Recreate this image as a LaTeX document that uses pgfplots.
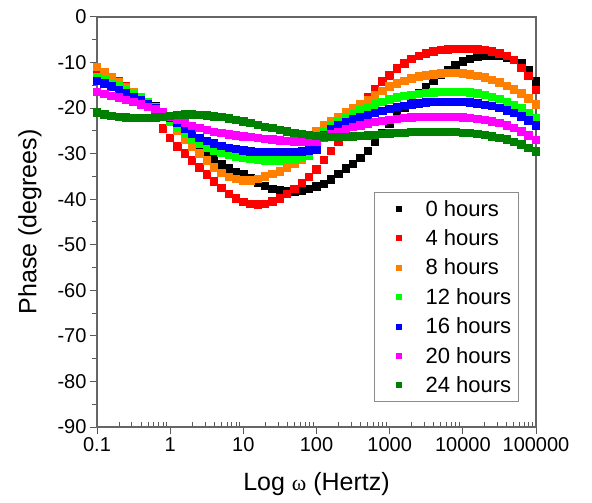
\documentclass[border=0pt]{standalone}
\usepackage{pgfplots}
\usepackage{pgfplotstable}
\usepackage{fontspec}
\pgfplotsset{compat=1.18}
\usetikzlibrary{calc}
\setmainfont{Liberation Sans}
\newfontfamily\serifw{Liberation Serif}

\definecolor{c0}{RGB}{0,0,0}
\definecolor{c4}{RGB}{255,0,0}
\definecolor{c8}{RGB}{255,128,0}
\definecolor{c12}{RGB}{0,255,0}
\definecolor{c16}{RGB}{0,0,255}
\definecolor{c20}{RGB}{255,0,255}
\definecolor{c24}{RGB}{0,128,0}

% t = log10 of frequency, phase in degrees
\pgfplotstableread{
t    h0     h4     h8     h12    h16    h20    h24
-1.0 -12.5  -11.5  -11.0  -13.2  -14.0  -16.5  -21.0
-0.9 -13.3  -12.3  -12.1  -13.9  -14.6  -16.9  -21.4
-0.8 -14.1  -13.2  -13.2  -14.6  -15.3  -17.3  -21.7
-0.7 -15.0  -14.2  -14.3  -15.3  -16.0  -17.7  -22.0
-0.6 -15.9  -15.3  -15.4  -16.0  -16.7  -18.2  -22.1
-0.5 -16.8  -16.6  -16.5  -16.8  -17.5  -18.7  -22.2
-0.4 -17.7  -18.0  -17.6  -17.7  -18.3  -19.2  -22.2
-0.3 -18.6  -19.8  -18.7  -18.8  -19.1  -19.7  -22.2
-0.2 -19.6  -22.0  -19.9  -19.9  -20.0  -20.3  -22.1
-0.1 -20.8  -24.5  -21.3  -21.2  -21.0  -21.0  -21.9
0.0  -22.6  -26.6  -23.0  -22.7  -22.1  -21.8  -21.7
0.1  -24.4  -28.4  -24.9  -24.2  -23.3  -22.6  -21.5
0.2  -26.0  -30.0  -26.9  -25.6  -24.5  -23.3  -21.4
0.3  -27.5  -31.5  -28.5  -26.9  -25.6  -23.9  -21.4
0.4  -28.9  -33.0  -30.0  -27.9  -26.5  -24.4  -21.5
0.5  -30.1  -34.6  -31.5  -28.7  -27.2  -24.8  -21.6
0.6  -31.3  -36.1  -33.0  -29.4  -27.8  -25.2  -21.8
0.7  -32.4  -37.5  -34.2  -29.9  -28.3  -25.5  -22.0
0.8  -33.3  -38.8  -35.1  -30.3  -28.7  -25.8  -22.3
0.9  -34.0  -39.8  -35.6  -30.7  -29.0  -26.0  -22.6
1.0  -34.6  -40.6  -35.9  -31.0  -29.3  -26.2  -22.9
1.1  -35.4  -41.0  -35.9  -31.2  -29.5  -26.4  -23.3
1.2  -36.3  -41.2  -35.5  -31.4  -29.6  -26.6  -23.7
1.3  -37.1  -41.0  -35.0  -31.5  -29.7  -26.8  -24.1
1.4  -37.7  -40.5  -34.5  -31.5  -29.7  -26.9  -24.4
1.5  -38.1  -39.8  -33.9  -31.5  -29.7  -27.1  -24.8
1.6  -38.3  -38.9  -33.1  -31.4  -29.7  -27.2  -25.1
1.7  -38.3  -37.8  -32.3  -31.2  -29.6  -27.3  -25.4
1.8  -38.1  -36.5  -31.3  -30.9  -29.5  -27.4  -25.7
1.9  -37.7  -35.1  -30.2  -30.5  -29.3  -27.5  -25.9
2.0  -37.2  -33.5  -25.0  -26.5  -29.2  -27.5  -26.1
2.1  -36.6  -31.4  -23.8  -25.0  -25.9  -26.5  -26.2
2.2  -35.7  -29.4  -22.8  -23.9  -24.7  -25.8  -26.3
2.3  -34.5  -27.3  -21.9  -22.9  -23.8  -25.2  -26.3
2.4  -33.3  -24.5  -21.0  -22.1  -23.1  -24.7  -26.3
2.5  -32.3  -21.8  -20.1  -21.3  -22.5  -24.2  -26.2
2.6  -31.0  -19.5  -19.2  -20.5  -22.0  -23.8  -26.1
2.7  -29.4  -17.5  -18.2  -19.8  -21.5  -23.4  -26.0
2.8  -27.4  -15.8  -17.2  -19.2  -21.1  -23.1  -25.9
2.9  -25.4  -14.2  -16.2  -18.6  -20.6  -22.8  -25.7
3.0  -23.4  -12.8  -15.3  -18.1  -20.2  -22.6  -25.6
3.1  -21.6  -11.3  -14.6  -17.7  -19.8  -22.4  -25.5
3.2  -19.9  -10.2  -14.0  -17.4  -19.5  -22.2  -25.4
3.3  -18.3  -9.2   -13.5  -17.1  -19.2  -22.1  -25.3
3.4  -16.8  -8.5   -13.1  -16.9  -19.0  -22.0  -25.2
3.5  -15.4  -8.0   -12.8  -16.7  -18.8  -21.9  -25.2
3.6  -14.0  -7.6   -12.6  -16.6  -18.7  -21.9  -25.2
3.7  -12.7  -7.3   -12.4  -16.5  -18.6  -21.9  -25.2
3.8  -11.6  -7.1   -12.3  -16.5  -18.6  -21.9  -25.2
3.9  -10.6  -7.0   -12.3  -16.5  -18.6  -22.0  -25.3
4.0  -9.8   -7.0   -12.4  -16.5  -18.7  -22.1  -25.4
4.1  -9.2   -7.0   -12.6  -16.6  -18.8  -22.2  -25.5
4.2  -8.8   -7.1   -12.9  -16.8  -19.0  -22.4  -25.7
4.3  -8.6   -7.3   -13.3  -17.1  -19.3  -22.6  -25.9
4.4  -8.5   -7.6   -13.8  -17.5  -19.6  -22.9  -26.2
4.5  -8.6   -8.0   -14.4  -18.0  -20.0  -23.3  -26.5
4.6  -8.9   -8.6   -15.1  -18.6  -20.5  -23.8  -26.9
4.7  -9.5   -9.5   -15.9  -19.3  -21.1  -24.4  -27.4
4.8  -10.2  -11.2  -16.8  -20.1  -21.8  -25.1  -28.0
4.9  -11.6  -13.0  -17.9  -21.1  -22.7  -26.0  -28.7
5.0  -14.2  -16.0  -19.2  -22.3  -23.8  -27.0  -29.5
}\phase

\begin{document}
\begin{tikzpicture}
\begin{axis}[
  scale only axis,
  width=439pt, height=410pt,
  xmin=-1, xmax=5, ymin=-90, ymax=0,
  xtick={-1,0,1,2,3,4,5},
  xticklabels={0.1,1,10,100,1000,10000,100000},
  minor xtick={-0.699,-0.523,-0.398,-0.301,-0.222,-0.155,-0.097,-0.046,
    0.301,0.477,0.602,0.699,0.778,0.845,0.903,0.954,
    1.301,1.477,1.602,1.699,1.778,1.845,1.903,1.954,
    2.301,2.477,2.602,2.699,2.778,2.845,2.903,2.954,
    3.301,3.477,3.602,3.699,3.778,3.845,3.903,3.954,
    4.301,4.477,4.602,4.699,4.778,4.845,4.903,4.954},
  ytick={-90,-80,...,0},
  minor y tick num=1,
  tick pos=left,
  tick align=outside,
  major tick length=7pt,
  minor tick length=5pt,
  minor x tick style={yshift=5pt},
  every tick/.style={black!65, line width=1pt},
  axis line style={black!60, line width=1.1pt},
  /pgf/number format/assume math mode=true,
  tick label style={font=\fontsize{20}{24}\selectfont},
  xlabel={Log {\serifw\fontsize{22}{22}\selectfont ω} (Hertz)},
  ylabel={Phase (degrees)},
  label style={font=\fontsize{25}{30}\selectfont},
  xlabel style={at={(axis description cs:0.5,-0.1537)}, anchor=base},
  ylabel style={at={(axis description cs:-0.1526,0.5)}, anchor=center},
  legend style={at={(1,0)}, anchor=south east, xshift=-17pt, yshift=25pt,
    draw=black!45, line width=0.9pt, inner sep=3pt, row sep=3.2pt,
    font=\fontsize{22}{24}\selectfont,
    nodes={inner sep=4.4pt}},
  legend cell align=left,
  legend image code/.code={
    \path (0pt,0pt) (44pt,0pt);
    \draw[#1, mark size=2.5pt] plot coordinates {(21.6pt,0pt)};
  },
  every axis plot/.append style={only marks, mark=square*, mark size=3.7pt,
    line width=0pt},
]
\addplot[c0, mark options={fill=c0}] table[x=t, y=h0] {\phase};
\addplot[c4, mark options={fill=c4}] table[x=t, y=h4] {\phase};
\addplot[c8, mark options={fill=c8}] table[x=t, y=h8] {\phase};
\addplot[c12, mark options={fill=c12}] table[x=t, y=h12] {\phase};
\addplot[c16, mark options={fill=c16}] table[x=t, y=h16] {\phase};
\addplot[c20, mark options={fill=c20}] table[x=t, y=h20] {\phase};
\addplot[c24, mark options={fill=c24}] table[x=t, y=h24] {\phase};
\legend{0 hours, 4 hours, 8 hours, 12 hours, 16 hours, 20 hours, 24 hours}
\end{axis}
\pgfresetboundingbox
\path[use as bounding box] ($(current axis.south west)+(-97pt,-75pt)$)
  rectangle ($(current axis.north east)+(56pt,17pt)$);
\end{tikzpicture}
\end{document}
